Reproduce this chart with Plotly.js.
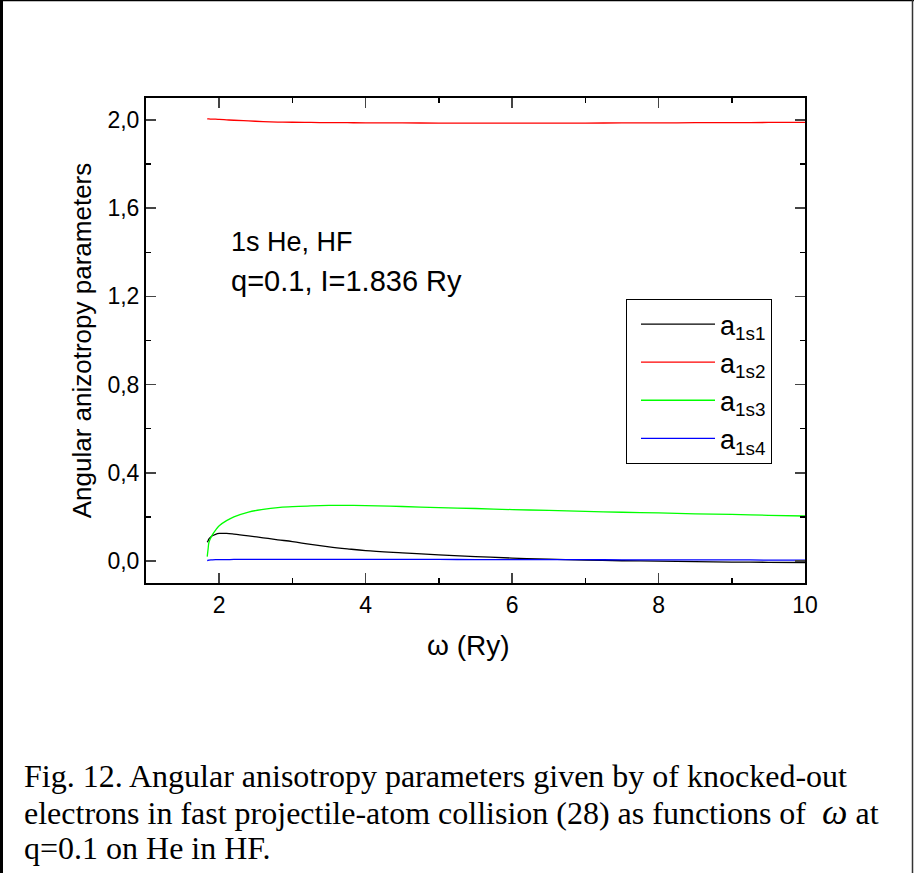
<!DOCTYPE html>
<html>
<head>
<meta charset="utf-8">
<script src="https://cdn.plot.ly/plotly-3.0.1.min.js"></script>
<style>html,body{margin:0;padding:0;background:#fff;}#chart{width:914px;height:873px;}</style>
</head>
<body>
<div id="chart"></div>
<script>
// omega (Ry)
const omega = [1.836, 1.85, 1.86, 1.9, 1.95, 2.0, 2.1, 2.2, 2.4, 2.6, 2.8, 3.0, 3.25, 3.5, 3.75, 4.0, 4.5, 5.0, 5.5, 6.0, 6.5, 7.0, 7.5, 8.0, 8.5, 9.0, 9.5, 10.0];
const a1s1 = [0.085, 0.093, 0.100, 0.113, 0.121, 0.125, 0.125, 0.122, 0.114, 0.105, 0.096, 0.088, 0.075, 0.064, 0.055, 0.047, 0.037, 0.028, 0.020, 0.013, 0.008, 0.004, 0.001, -0.001, -0.003, -0.005, -0.006, -0.007];
const a1s2 = [2.005, 2.005, 2.005, 2.004, 2.004, 2.003, 2.001, 1.999, 1.996, 1.993, 1.991, 1.990, 1.989, 1.988, 1.988, 1.987, 1.987, 1.986, 1.986, 1.986, 1.986, 1.986, 1.987, 1.987, 1.988, 1.988, 1.989, 1.989];
const a1s3 = [0.020, 0.060, 0.085, 0.115, 0.140, 0.160, 0.183, 0.200, 0.222, 0.234, 0.242, 0.246, 0.250, 0.252, 0.252, 0.251, 0.247, 0.242, 0.238, 0.233, 0.229, 0.225, 0.221, 0.218, 0.214, 0.211, 0.207, 0.204];
const a1s4 = [0.002, 0.003, 0.004, 0.005, 0.006, 0.006, 0.006, 0.007, 0.007, 0.007, 0.007, 0.007, 0.007, 0.007, 0.007, 0.007, 0.007, 0.007, 0.006, 0.006, 0.006, 0.006, 0.005, 0.005, 0.005, 0.005, 0.004, 0.004];
const seriesNames = ['a<sub>1s1</sub>', 'a<sub>1s2</sub>', 'a<sub>1s3</sub>', 'a<sub>1s4</sub>'];
const seriesColors = ['#000000', '#ff0000', '#00ff00', '#0000ff'];
const seriesValues = [a1s1, a1s2, a1s3, a1s4];
const xTickVals = [2, 4, 6, 8, 10];
const yTickVals = [0, 0.4, 0.8, 1.2, 1.6, 2.0];

const traces = seriesValues.map((v, i) => ({
  x: omega, y: v, type: 'scatter', mode: 'lines', name: seriesNames[i],
  line: {color: seriesColors[i], width: 1.3, shape: 'spline'}
}));

// pixel helpers for paper coords
const L = 146, R = 805, T = 98, B = 583;
const px = p => (p - L) / (R - L);
const py = p => (B - p) / (B - T);
const serif = 'Liberation Serif, Times New Roman, serif';

const layout = {
  width: 914, height: 873, autosize: false,
  margin: {l: L, r: 914 - R, t: T, b: 873 - B, pad: 0},
  paper_bgcolor: '#fff', plot_bgcolor: '#fff',
  separators: ',.',
  font: {family: 'Liberation Sans, Arial, sans-serif', color: '#000', size: 23},
  showlegend: true,
  legend: {
    x: px(626), y: py(299), xanchor: 'left', yanchor: 'top',
    bordercolor: '#000', borderwidth: 1, bgcolor: '#fff',
    font: {size: 27, family: 'Liberation Sans, Arial, sans-serif'},
    itemwidth: 74, indentation: 9, tracegroupgap: 0
  },
  xaxis: {
    range: [1, 10], tickvals: xTickVals, ticks: 'inside', ticklen: 10, tickwidth: 1.5,
    showline: true, linewidth: 2, linecolor: '#000', mirror: 'ticks', showgrid: false, zeroline: false,
    tickfont: {size: 23},
    minor: {tickvals: [1, 3, 5, 7, 9], ticks: 'inside', ticklen: 5, tickwidth: 1.5, tickcolor: '#000'}
  },
  yaxis: {
    range: [-0.1, 2.1], tickvals: yTickVals, tickformat: '.1f', ticks: 'inside', ticklen: 10, tickwidth: 1.5,
    showline: true, linewidth: 2, linecolor: '#000', mirror: 'ticks', showgrid: false, zeroline: false,
    tickfont: {size: 23},
    minor: {tickvals: [0.2, 0.6, 1.0, 1.4, 1.8], ticks: 'inside', ticklen: 5, tickwidth: 1.5, tickcolor: '#000'},
    title: {text: 'Angular anizotropy parameters', font: {size: 26}, standoff: 8}
  },
  annotations: [
    {xref: 'paper', yref: 'paper', x: px(468), y: py(645), xanchor: 'center', yanchor: 'middle', showarrow: false,
     text: 'ω (Ry)', font: {size: 28}},
    {xref: 'paper', yref: 'paper', x: px(229), y: py(242), xanchor: 'left', yanchor: 'middle', showarrow: false,
     text: '1s He, HF', font: {size: 27}},
    {xref: 'paper', yref: 'paper', x: px(229), y: py(281), xanchor: 'left', yanchor: 'middle', showarrow: false,
     text: 'q=0.1, I=1.836 Ry', font: {size: 29}},
    {xref: 'paper', yref: 'paper', x: px(22), y: py(776), xanchor: 'left', yanchor: 'middle', showarrow: false,
     text: 'Fig. 12. Angular anisotropy parameters given by of knocked-out', font: {size: 32, family: serif}},
    {xref: 'paper', yref: 'paper', x: px(22), y: py(812), xanchor: 'left', yanchor: 'middle', showarrow: false,
     text: 'electrons in fast projectile-atom collision (28) as functions of&nbsp; <span style="font-size:36px"><i>ω</i></span>&nbsp;at', font: {size: 32, family: serif}},
    {xref: 'paper', yref: 'paper', x: px(22), y: py(848), xanchor: 'left', yanchor: 'middle', showarrow: false,
     text: 'q=0.1 on He in HF.', font: {size: 32, family: serif}}
  ],
  shapes: [
    {type: 'line', xref: 'paper', yref: 'paper', x0: px(1.5), x1: px(1.5), y0: py(0), y1: py(873), line: {color: '#000', width: 3}},
    {type: 'line', xref: 'paper', yref: 'paper', x0: px(0), x1: px(914), y0: py(0.5), y1: py(0.5), line: {color: '#000', width: 1.5}},
    {type: 'line', xref: 'paper', yref: 'paper', x0: px(912.5), x1: px(912.5), y0: py(0), y1: py(873), line: {color: '#333', width: 1.5}}
  ]
};

Plotly.newPlot('chart', traces, layout, {displayModeBar: false, staticPlot: true});
</script>
</body>
</html>
